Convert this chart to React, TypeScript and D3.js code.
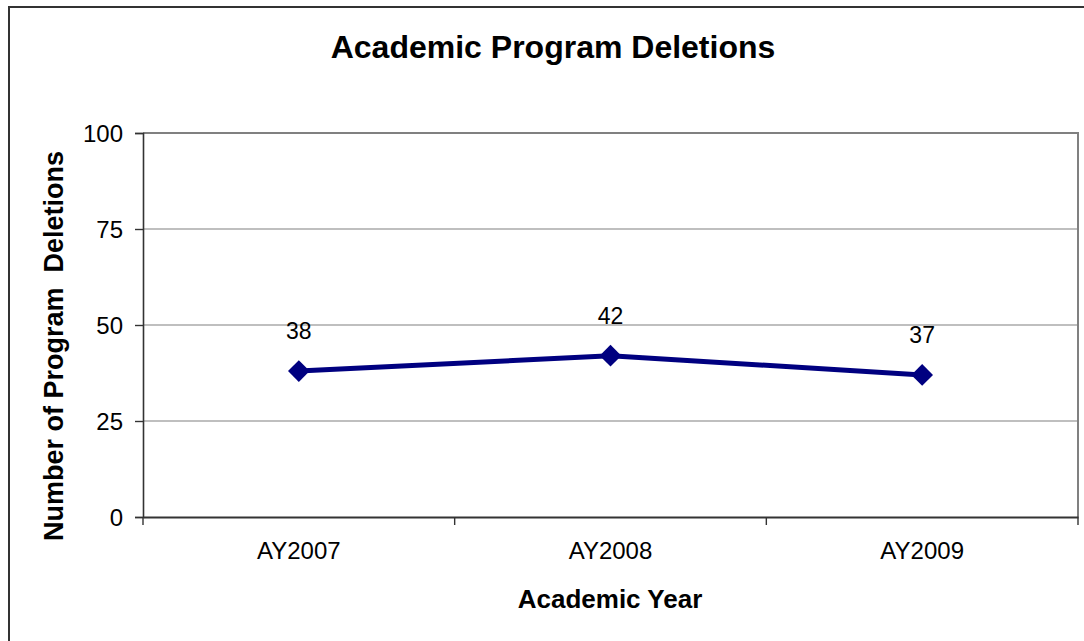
import React, { useEffect, useRef } from "react";
import * as d3 from "d3";

const categories = ["AY2007", "AY2008", "AY2009"];
const values = [38, 42, 37];
const yTicks = [0, 25, 50, 75, 100];
const title = "Academic Program Deletions";
const xTitle = "Academic Year";
const yTitle = "Number of Program  Deletions";

const W = 1084;
const H = 641;
const FONT = "'Liberation Sans', Arial, sans-serif";

export default function App() {
  const ref = useRef<SVGSVGElement>(null);

  useEffect(() => {
    const svg = d3.select(ref.current);
    svg.selectAll("*").remove();

    const left = 143, right = 1078, top = 133, bottom = 517;

    const x = d3.scaleBand<string>().domain(categories).range([left, right]).padding(0);
    const y = d3.scaleLinear().domain([0, 100]).range([bottom, top]);

    // background
    svg.append("rect").attr("x", 0).attr("y", 0).attr("width", W).attr("height", H).attr("fill", "#fff");
    // outer chart border
    svg.append("rect")
      .attr("x", 9).attr("y", 7).attr("width", W + 20).attr("height", H + 20)
      .attr("fill", "none").attr("stroke", "#333").attr("stroke-width", 2);

    // gridlines
    svg.append("g").selectAll("line").data(yTicks.filter((t) => t !== 0)).join("line")
      .attr("x1", left).attr("x2", right)
      .attr("y1", (d) => y(d)).attr("y2", (d) => y(d))
      .attr("stroke", "#808080").attr("stroke-width", (d) => (d === 100 ? 2 : 1.2));

    // plot area right border
    svg.append("line").attr("x1", right).attr("x2", right).attr("y1", top - 1).attr("y2", bottom)
      .attr("stroke", "#808080").attr("stroke-width", 2);

    // y axis
    const yAxis = d3.axisLeft(y).tickValues(yTicks).tickSize(8).tickPadding(12).tickFormat(d3.format("d"));
    const gy = svg.append("g").attr("transform", `translate(${left},0)`).call(yAxis);
    gy.select(".domain").attr("stroke", "#333").attr("stroke-width", 1.6);
    gy.selectAll(".tick line").attr("stroke", "#333").attr("stroke-width", 1.4);
    gy.selectAll(".tick text").attr("font-family", FONT).attr("font-size", 24).attr("fill", "#000")
      .attr("dy", "0.36em");

    // x axis
    const xAxis = d3.axisBottom(x).tickSize(0).tickPadding(24);
    const gx = svg.append("g").attr("transform", `translate(0,${bottom})`).call(xAxis);
    gx.select(".domain").attr("stroke", "#333").attr("stroke-width", 1.8);
    gx.selectAll(".tick text").attr("font-family", FONT).attr("font-size", 24).attr("fill", "#000")
      .attr("dy", "0.75em");
    // category boundary ticks
    const bounds = [...categories.map((c) => x(c) as number), right];
    svg.append("g").selectAll("line").data(bounds).join("line")
      .attr("x1", (d) => d).attr("x2", (d) => d)
      .attr("y1", bottom).attr("y2", bottom + 8)
      .attr("stroke", "#333").attr("stroke-width", 1.4);

    const cx = (c: string) => (x(c) as number) + x.bandwidth() / 2;

    // line
    const line = d3.line<number>().x((_, i) => cx(categories[i])).y((d) => y(d));
    svg.append("path").datum(values).attr("d", line)
      .attr("fill", "none").attr("stroke", "#000080").attr("stroke-width", 5)
      .attr("stroke-linejoin", "round");

    // markers
    const sym = d3.symbol().type(d3.symbolDiamond2).size(300);
    svg.append("g").selectAll("path").data(values).join("path")
      .attr("d", sym as any)
      .attr("transform", (d, i) => `translate(${cx(categories[i])},${y(d)})`)
      .attr("fill", "#000080");

    // labels
    svg.append("g").selectAll("text").data(values).join("text")
      .attr("x", (_, i) => cx(categories[i]))
      .attr("y", (d) => y(d) - 32)
      .attr("text-anchor", "middle")
      .attr("font-family", FONT).attr("font-size", 23).attr("fill", "#000")
      .text((d) => String(d));

    // title
    svg.append("text").attr("x", 553).attr("y", 58).attr("text-anchor", "middle")
      .attr("font-family", FONT).attr("font-size", 32).attr("font-weight", "bold").text(title);

    svg.append("text").attr("x", 610).attr("y", 608).attr("text-anchor", "middle")
      .attr("font-family", FONT).attr("font-size", 26).attr("font-weight", "bold").text(xTitle);

    svg.append("text")
      .attr("transform", `translate(63,346) rotate(-90)`)
      .attr("text-anchor", "middle")
      .style("white-space", "pre")
      .attr("font-family", FONT).attr("font-size", 27).attr("font-weight", "bold").text(yTitle);
  }, []);

  return (
    <svg
      ref={ref}
      width={W}
      height={H}
      style={{ position: "absolute", left: 0, top: 0, display: "block" }}
    />
  );
}
